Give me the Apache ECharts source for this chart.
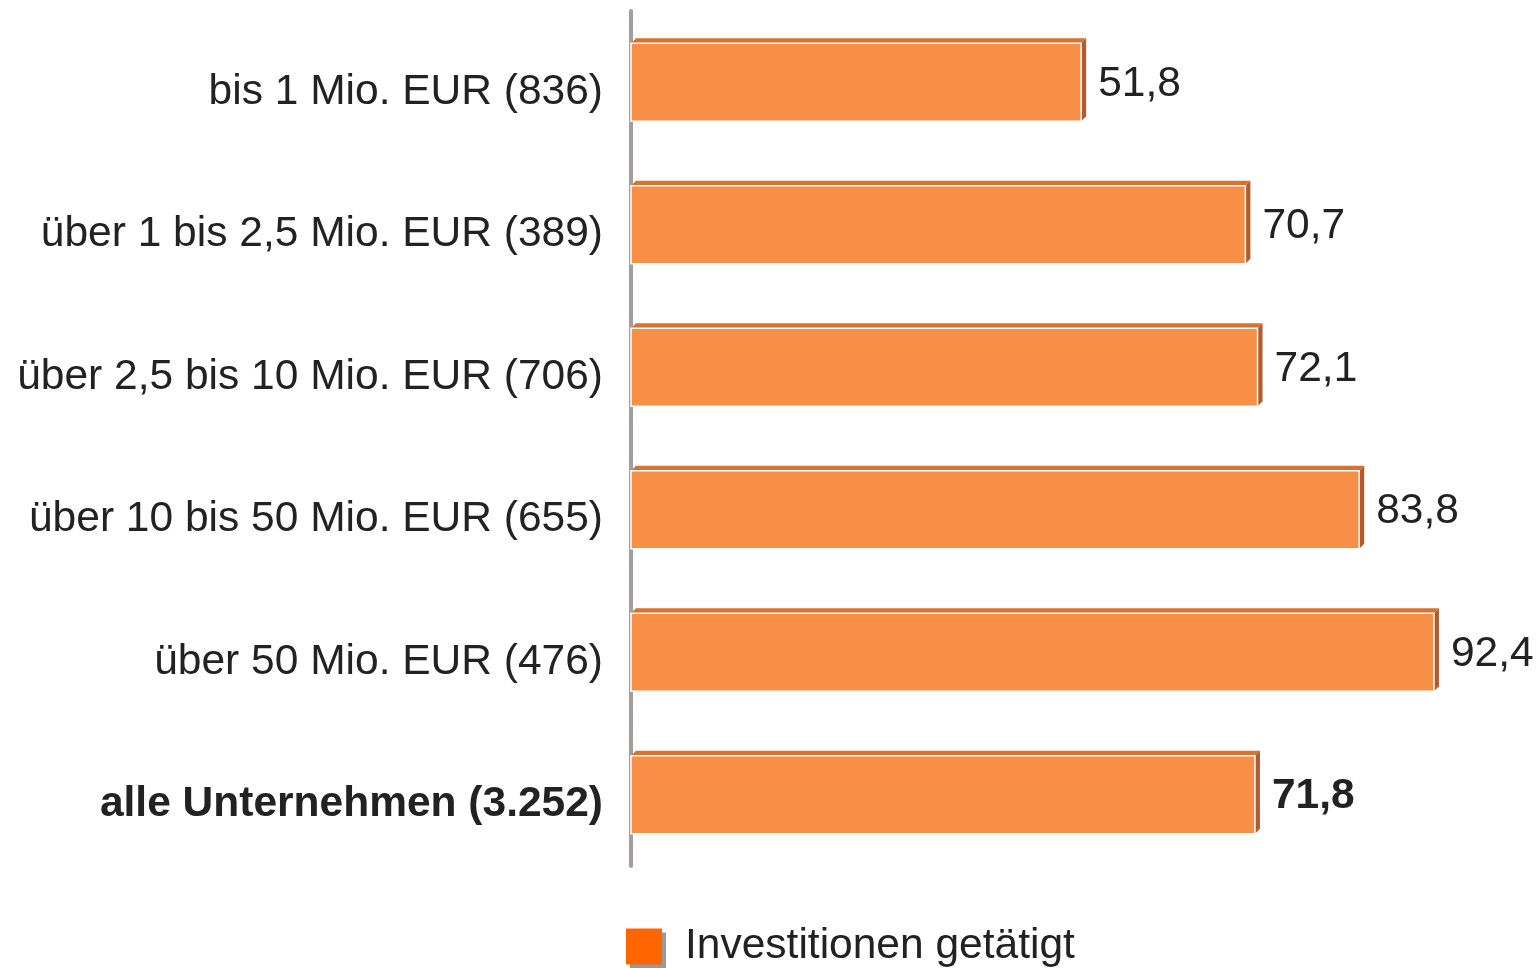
<!DOCTYPE html>
<html>
<head>
<meta charset="utf-8">
<script src="https://cdn.jsdelivr.net/npm/echarts@6/dist/echarts.min.js"></script>
<style>
  html, body { margin: 0; padding: 0; background: #fff; }
  #chart { width: 1539px; height: 968px; }
</style>
</head>
<body>
<div id="chart"></div>
<script>
const categories = [
  'bis 1 Mio. EUR (836)',
  'über 1 bis 2,5 Mio. EUR (389)',
  'über 2,5 bis 10 Mio. EUR (706)',
  'über 10 bis 50 Mio. EUR (655)',
  'über 50 Mio. EUR (476)',
  'alle Unternehmen (3.252)'
];
const values = [51.8, 70.7, 72.1, 83.8, 92.4, 71.8];
const seriesName = 'Investitionen getätigt';

const chart = echarts.init(document.getElementById('chart'));

const FONT = 'Liberation Sans, Arial, sans-serif';
const FS = 42.5;
const BAR_H = 78;
const DEPTH = 5;

function renderBar(params, api) {
  const idx = api.value(0);
  const v = api.value(1);
  const p0 = api.coord([0, idx]);
  const p1 = api.coord([v, idx]);
  const x0 = p0[0], x1 = p1[0];
  const y0 = p0[1] - BAR_H / 2, y1 = p0[1] + BAR_H / 2;
  const bold = idx === categories.length - 1;
  return {
    type: 'group',
    children: [
      {
        type: 'polygon',
        shape: { points: [[x0, y0], [x0 + DEPTH, y0 - DEPTH], [x1 + DEPTH, y0 - DEPTH], [x1, y0]] },
        style: { fill: '#d9712f' }
      },
      {
        type: 'polygon',
        shape: { points: [[x1, y0], [x1 + DEPTH, y0 - DEPTH], [x1 + DEPTH, y1 - DEPTH], [x1, y1]] },
        style: { fill: '#b35b2f' }
      },
      {
        type: 'rect',
        shape: { x: x0, y: y0, width: x1 - x0, height: BAR_H },
        style: { fill: '#f79046', stroke: '#fff', lineWidth: 1.5 }
      },
      {
        type: 'text',
        x: x1 + 17,
        y: p0[1] + 2,
        style: {
          text: String(v).replace('.', ','),
          fontFamily: FONT,
          fontSize: FS,
          fontWeight: bold ? 'bold' : 'normal',
          fill: '#222',
          verticalAlign: 'middle'
        }
      }
    ]
  };
}

chart.setOption({
  animation: false,
  grid: { left: 631, right: 39, top: 11, bottom: 102 },
  legend: {
    left: 626,
    top: 925,
    padding: 0,
    icon: 'rect',
    itemWidth: 36,
    itemHeight: 36,
    textStyle: { fontFamily: FONT, fontSize: FS, color: '#222', padding: [0, 0, 0, 18] },
    data: [{
      name: seriesName,
      itemStyle: { color: '#ff6600', shadowColor: '#999', shadowOffsetX: 4, shadowOffsetY: 4, shadowBlur: 0 }
    }]
  },
  xAxis: {
    type: 'value',
    min: 0,
    max: 100,
    show: false
  },
  yAxis: {
    type: 'category',
    inverse: true,
    data: categories,
    axisTick: { show: false },
    axisLine: { show: true, lineStyle: { color: '#a59c9c', width: 4 } },
    axisLabel: {
      margin: 28,
      padding: [20, 0, 0, 0],
      fontFamily: FONT,
      fontSize: FS,
      color: '#222',
      formatter: (val) => val === categories[categories.length - 1] ? '{b|' + val + '}' : val,
      rich: {
        b: { fontFamily: FONT, fontSize: FS, fontWeight: 'bold', color: '#222' }
      }
    },
    splitLine: { show: false }
  },
  series: [{
    name: seriesName,
    type: 'custom',
    renderItem: renderBar,
    itemStyle: { color: '#ff6600' },
    encode: { x: 1, y: 0 },
    data: values.map((v, i) => [i, v]),
    z: 3
  }]
});
</script>
</body>
</html>
